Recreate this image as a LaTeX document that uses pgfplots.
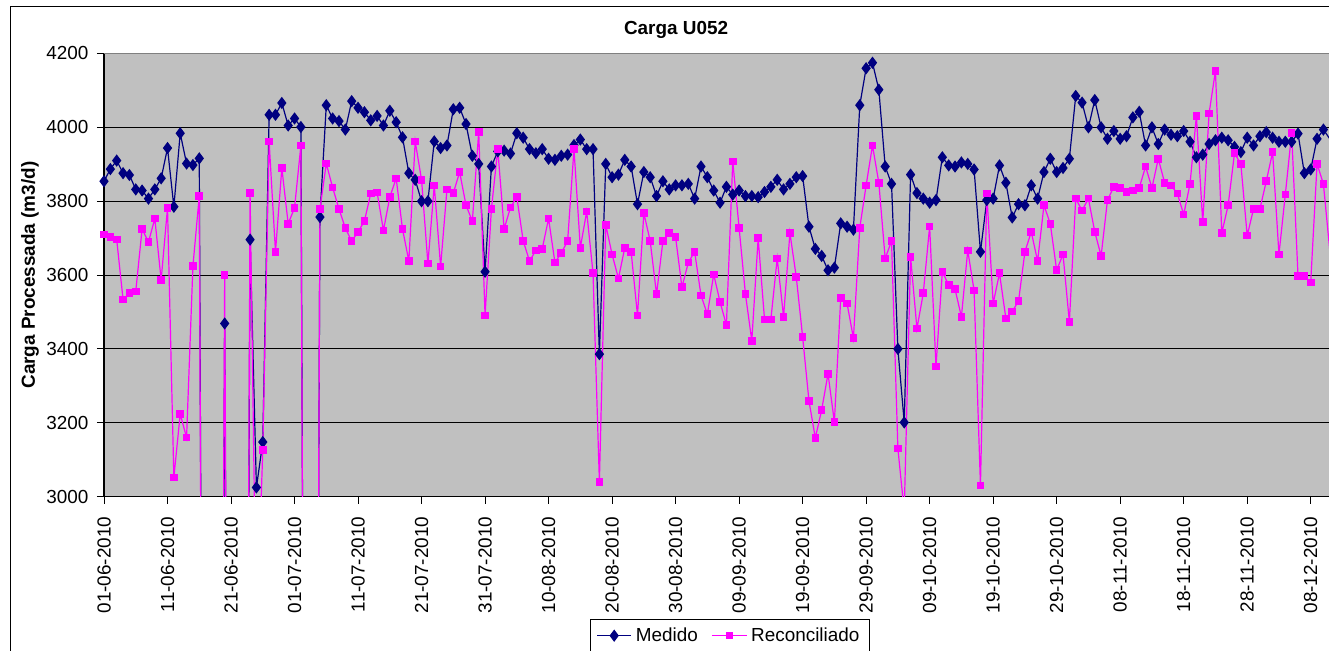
\documentclass[border=0pt]{standalone}
\usepackage{pgfplots}
\pgfplotsset{compat=1.18}
\usepackage{pgfplotstable}
\usepackage{fontspec}
\setmainfont{Liberation Sans}
\definecolor{navyb}{RGB}{0,0,128}
\definecolor{mag}{RGB}{255,0,255}
\definecolor{plotbg}{RGB}{192,192,192}
\definecolor{bordergray}{RGB}{128,128,128}

\pgfplotstableread{
d m r
0 3854 3710
1 3887 3703
2 3910 3696
3 3876 3534
4 3871 3551
5 3832 3556
6 3829 3725
7 3807 3689
8 3832 3753
9 3862 3587
10 3944 3782
11 3785 3052
12 3984 3224
13 3902 3160
14 3898 3624
15 3916 3814
16 0 0
17 0 0
18 0 0
19 3469 3600
20 0 0
21 0 0
22 0 0
23 3696 3822
24 3025 2600
25 3148 3127
26 4034 3962
27 4034 3663
28 4066 3890
29 4005 3739
30 4024 3782
31 4001 3951
32 0 0
33 0 0
34 3757 3779
35 4060 3902
36 4024 3837
37 4017 3779
38 3994 3727
39 4071 3692
40 4053 3717
41 4041 3746
42 4019 3821
43 4031 3824
44 4005 3721
45 4045 3811
46 4014 3862
47 3973 3725
48 3876 3638
49 3858 3962
50 3800 3858
51 3800 3631
52 3962 3843
53 3944 3623
54 3951 3832
55 4049 3822
56 4053 3879
57 4009 3789
58 3923 3746
59 3901 3988
60 3609 3491
61 3894 3779
62 3935 3941
63 3937 3725
64 3929 3783
65 3984 3811
66 3972 3693
67 3941 3638
68 3930 3667
69 3941 3671
70 3915 3753
71 3912 3634
72 3923 3660
73 3926 3692
74 3952 3941
75 3967 3674
76 3941 3772
77 3941 3605
78 3386 3040
79 3901 3736
80 3865 3656
81 3872 3591
82 3912 3674
83 3894 3663
84 3792 3491
85 3879 3768
86 3865 3692
87 3814 3548
88 3854 3692
89 3832 3714
90 3843 3703
91 3843 3567
92 3847 3634
93 3807 3663
94 3894 3545
95 3865 3494
96 3829 3602
97 3796 3527
98 3839 3465
99 3818 3908
100 3829 3728
101 3814 3548
102 3814 3422
103 3811 3700
104 3825 3480
105 3839 3480
106 3858 3645
107 3832 3487
108 3847 3714
109 3865 3595
110 3868 3433
111 3731 3259
112 3671 3159
113 3652 3235
114 3613 3333
115 3620 3202
116 3740 3538
117 3731 3523
118 3723 3429
119 4060 3728
120 4160 3843
121 4175 3951
122 4102 3850
123 3894 3645
124 3847 3692
125 3400 3130
126 3201 2960
127 3872 3649
128 3822 3455
129 3807 3551
130 3796 3732
131 3803 3353
132 3919 3609
133 3897 3573
134 3894 3562
135 3905 3487
136 3901 3667
137 3886 3558
138 3663 3030
139 3803 3821
140 3807 3523
141 3897 3605
142 3850 3483
143 3756 3501
144 3792 3530
145 3789 3663
146 3843 3717
147 3807 3638
148 3879 3789
149 3915 3739
150 3879 3613
151 3890 3656
152 3915 3473
153 4085 3807
154 4067 3775
155 4000 3807
156 4074 3717
157 4000 3652
158 3969 3803
159 3990 3839
160 3969 3836
161 3976 3825
162 4027 3829
163 4042 3836
164 3951 3894
165 4000 3836
166 3955 3915
167 3994 3850
168 3980 3843
169 3976 3821
170 3990 3764
171 3961 3847
172 3919 4031
173 3926 3743
174 3955 4038
175 3965 4153
176 3972 3714
177 3965 3789
178 3947 3930
179 3933 3901
180 3972 3707
181 3951 3779
182 3976 3779
183 3987 3854
184 3972 3933
185 3961 3656
186 3961 3818
187 3961 3984
188 3983 3598
189 3876 3598
190 3886 3580
191 3969 3901
192 3994 3847
193 3969 3667
}\data

\begin{document}
\fontsize{9.45}{11.3}\selectfont
\begin{tikzpicture}
\path[use as bounding box] (0pt,0pt) rectangle (664.5pt,325pt);
\clip (0pt,0pt) rectangle (664.5pt,325pt);
\draw[black, line width=0.5pt] (5pt,-5pt) -- (5pt,322pt) -- (670pt,322pt);
\begin{axis}[
  at={(52pt,76.65pt)}, anchor=south west,
  width=612.5pt, height=221.6pt, scale only axis,
  xmin=0, xmax=192.88, ymin=3000, ymax=4200,
  axis background/.style={fill=plotbg},
  axis x line*=bottom, axis y line*=left,
  axis line style={black, line width=0.6pt},
  ymajorgrids, grid style={black, line width=0.5pt},
  ytick={3000,3200,...,4200},
  xtick={0,10,...,190},
  xticklabels={01-06-2010,11-06-2010,21-06-2010,01-07-2010,11-07-2010,21-07-2010,31-07-2010,10-08-2010,20-08-2010,30-08-2010,09-09-2010,19-09-2010,29-09-2010,09-10-2010,19-10-2010,29-10-2010,08-11-2010,18-11-2010,28-11-2010,08-12-2010},
  tick align=outside, major tick length=3.5pt,
  tick style={black, line width=0.5pt},
  xticklabel style={rotate=90, anchor=east},
  xticklabel shift=3.2pt,
  yticklabel shift=1pt,
  yticklabel style={/pgf/number format/1000 sep={}, /pgf/number format/assume math mode=true},
  title={\textbf{Carga U052}},
  title style={at={(axis description cs:0.467,1.026)}, anchor=center},
  ylabel={\textbf{Carga Processada (m3/d)}},
  ylabel style={at={(axis description cs:-0.0604,0.5)}, anchor=center},
  legend style={at={(axis description cs:0.511,-0.276)}, anchor=north, legend columns=2, draw=black, fill=white, inner xsep=3pt, inner ysep=2pt, /tikz/every even column/.append style={column sep=5pt}},
]
\addplot[color=navyb, line width=0.6pt, mark=diamond*, mark size=2.6pt, mark options={solid, fill=navyb}] table[x=d,y=m] {\data};
\addlegendentry{Medido}
\addplot[color=mag, line width=0.6pt, mark=square*, mark size=1.6pt, mark options={solid, fill=mag}] table[x=d,y=r] {\data};
\addlegendentry{Reconciliado}
\draw[bordergray, line width=0.8pt] (axis description cs:0,1) -- (axis description cs:1,1);
\end{axis}
\end{tikzpicture}
\end{document}
